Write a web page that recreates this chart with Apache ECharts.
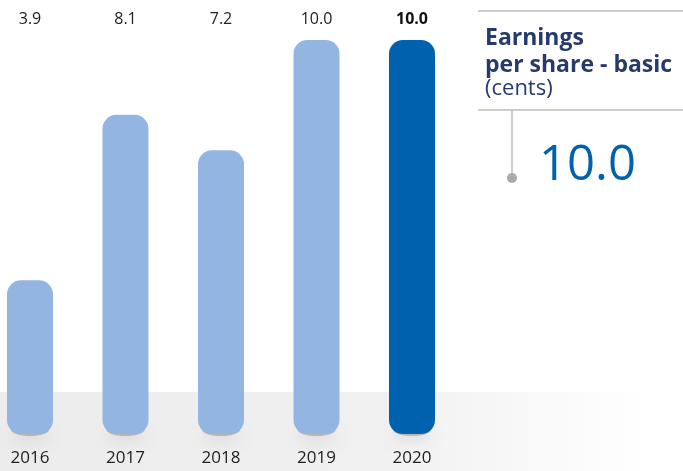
<!DOCTYPE html>
<html>
<head>
<meta charset="utf-8">
<script src="https://cdn.jsdelivr.net/npm/echarts@6/dist/echarts.min.js"></script>
<style>
  html, body { margin: 0; padding: 0; background: #fff; }
  #chart { width: 683px; height: 471px; }
</style>
</head>
<body>
<div id="chart"></div>
<script>
const years = ['2016', '2017', '2018', '2019', '2020'];
const eps = [3.9, 8.1, 7.2, 10.0, 10.0];
const epsLabels = ['3.9', '8.1', '7.2', '10.0', '10.0'];
const currentEps = '10.0';

const lightBlue = '#92b6e1';
const darkBlue = '#0061ae';
const navy = '#263a6c';
const font = '"Open Sans", "Noto Sans", sans-serif';

const chart = echarts.init(document.getElementById('chart'));

const barData = eps.map((v, i) => ({
  value: v,
  itemStyle: { color: i === eps.length - 1 ? darkBlue : lightBlue }
}));

chart.setOption({
  animation: false,
  grid: { left: 30, right: 271, top: 40, bottom: 37 },
  xAxis: [
    {
      type: 'category',
      data: years,
      boundaryGap: false,
      axisLine: { show: false },
      axisTick: { show: false },
      axisLabel: { color: '#222', fontSize: 17, fontFamily: font, margin: 16 }
    },
    {
      type: 'category',
      position: 'top',
      data: epsLabels,
      boundaryGap: false,
      axisLine: { show: false },
      axisTick: { show: false },
      axisLabel: {
        margin: 13,
        formatter: (v, i) => i === epsLabels.length - 1 ? '{b|' + v + '}' : '{n|' + v + '}',
        rich: {
          n: { color: '#222', fontSize: 16, fontFamily: font },
          b: { color: '#111', fontSize: 16, fontWeight: 'bold', fontFamily: font }
        }
      }
    }
  ],
  yAxis: { type: 'value', min: 0, max: 10, show: false, splitLine: { show: false } },
  graphic: [
    {
      type: 'rect', z: -10,
      shape: { x: 0, y: 392, width: 683, height: 79 },
      style: {
        fill: new echarts.graphic.LinearGradient(0, 0, 1, 0, [
          { offset: 0, color: '#ececec' },
          { offset: 0.55, color: '#f0f0f0' },
          { offset: 0.95, color: '#ffffff' }
        ])
      }
    },
    { type: 'line', shape: { x1: 478, y1: 11, x2: 683, y2: 11 }, style: { stroke: '#bdbdbd', lineWidth: 1.5 } },
    { type: 'line', shape: { x1: 478, y1: 110, x2: 683, y2: 110 }, style: { stroke: '#bdbdbd', lineWidth: 1.5 } },
    { type: 'line', shape: { x1: 512, y1: 110, x2: 512, y2: 178 }, style: { stroke: '#bdbdbd', lineWidth: 1.5 } },
    { type: 'circle', shape: { cx: 512, cy: 178, r: 5 }, style: { fill: '#ababab' } },
    { type: 'text', style: { x: 485, y: 38, text: 'Earnings', fill: navy, font: 'bold 23px ' + font, verticalAlign: 'middle' } },
    { type: 'text', style: { x: 485, y: 65, text: 'per share - basic', fill: navy, font: 'bold 23px ' + font, verticalAlign: 'middle' } },
    { type: 'text', style: { x: 485, y: 89, text: '(cents)', fill: navy, font: '22px ' + font, verticalAlign: 'middle' } },
    { type: 'text', style: { x: 539, y: 166, text: currentEps, fill: darkBlue, font: '49px ' + font, verticalAlign: 'middle' } }
  ],
  series: [
    {
      // soft shadow under each bar, mostly hidden behind the bar itself
      type: 'custom',
      z: 1,
      clip: false,
      data: eps.map((v, i) => [i, v]),
      renderItem: (params, api) => {
        const p = api.coord([api.value(0), 0]);
        return {
          type: 'ellipse',
          shape: { cx: p[0], cy: p[1] - 4, rx: 19, ry: 6 },
          style: { fill: 'rgba(0,0,0,0.2)', shadowBlur: 12, shadowOffsetY: 6, shadowColor: 'rgba(0,0,0,0.35)' }
        };
      }
    },
    {
      type: 'bar',
      z: 2,
      clip: false,
      barWidth: 46,
      data: barData,
      itemStyle: { borderRadius: 14 }
    }
  ]
});
</script>
</body>
</html>
